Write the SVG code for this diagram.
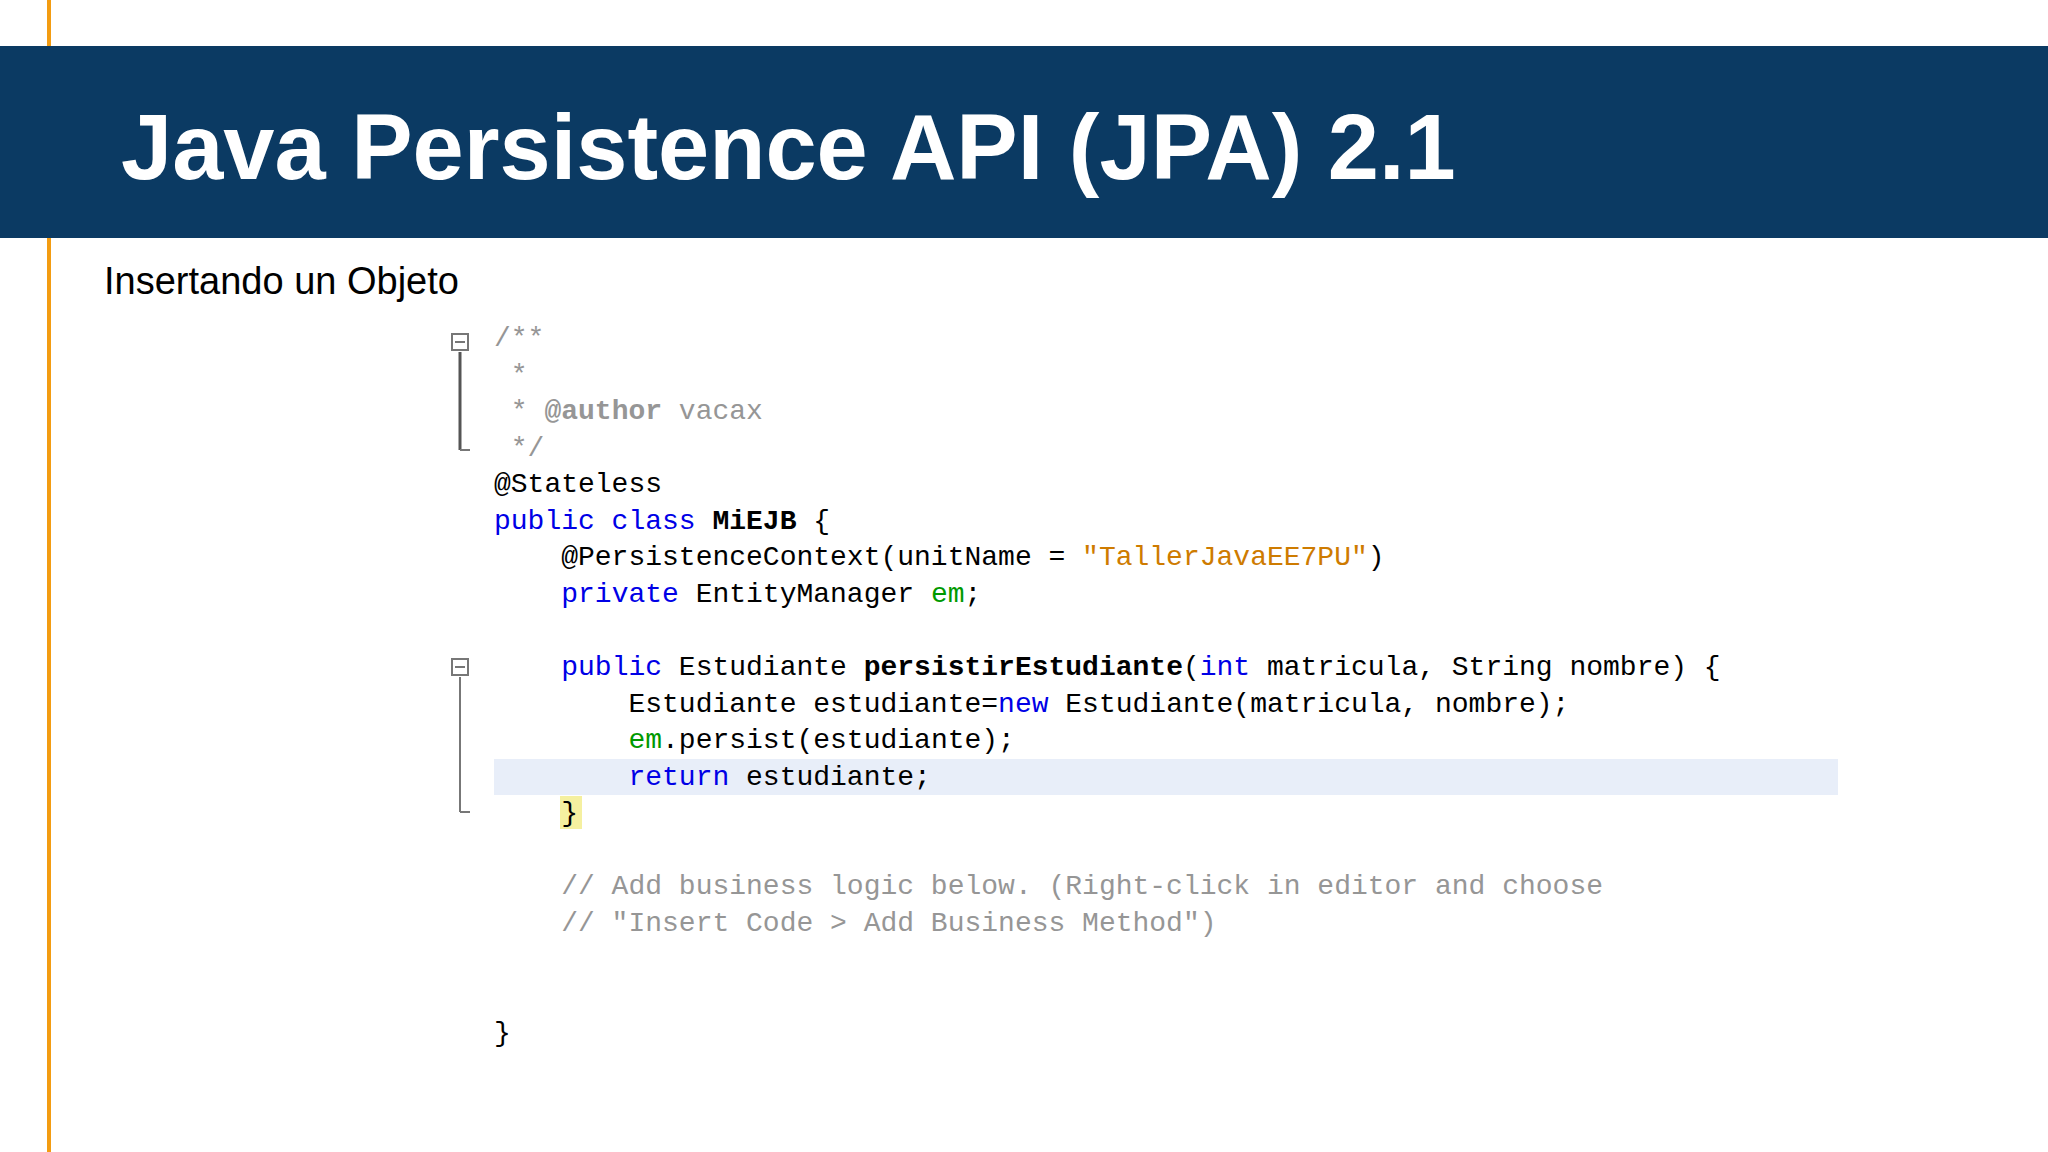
<svg xmlns="http://www.w3.org/2000/svg" width="2048" height="1152" viewBox="0 0 2048 1152">
<style>
.c{font-family:"Liberation Mono","DejaVu Sans Mono",monospace;font-size:28px;fill:#000;white-space:pre}
.g{fill:#969696}.k{fill:#0000e6}.s{fill:#ce7b00}.v{fill:#009900}.b{font-weight:bold}
.f{fill:none;stroke:#777;stroke-width:2}
</style>
<rect width="2048" height="1152" fill="#fff"/>
<rect x="47" y="0" width="4" height="1152" fill="#f39c12"/>
<rect x="0" y="46" width="2048" height="192" fill="#0b3a63"/>
<text x="121" y="179" font-family="Liberation Sans,Arial,sans-serif" font-size="92" font-weight="bold" fill="#fff">Java Persistence API (JPA) 2.1</text>
<text x="104" y="294" font-family="Liberation Sans,Arial,sans-serif" font-size="38" fill="#000">Insertando un Objeto</text>
<rect x="494" y="759" width="1344" height="36" fill="#e8eef9"/>
<rect x="560" y="796" width="22" height="33" fill="#f5f0a0"/>
<g id="folds">
<rect x="452" y="334" width="16" height="16" class="f"/><line x1="455" y1="342" x2="465" y2="342" class="f"/>
<line x1="460" y1="352" x2="460" y2="450" stroke="#555" stroke-width="3"/><line x1="460" y1="450" x2="470" y2="450" class="f"/>
<rect x="452" y="659" width="16" height="16" class="f"/><line x1="455" y1="667" x2="465" y2="667" class="f"/>
<line x1="460" y1="677" x2="460" y2="812" class="f"/><line x1="460" y1="812" x2="470" y2="812" class="f"/>
</g>
<g id="code">
<text class="c g" x="494" y="346">/**</text>
<text class="c g" x="494" y="383"> *</text>
<text class="c g" x="494" y="419"> * <tspan class="b">@author</tspan> vacax</text>
<text class="c g" x="494" y="456"> */</text>
<text class="c" x="494" y="492">@Stateless</text>
<text class="c" x="494" y="529"><tspan class="k">public class</tspan> <tspan class="b">MiEJB</tspan> {</text>
<text class="c" x="494" y="565">    @PersistenceContext(unitName = <tspan class="s">"TallerJavaEE7PU"</tspan>)</text>
<text class="c" x="494" y="602">    <tspan class="k">private</tspan> EntityManager <tspan class="v">em</tspan>;</text>
<text class="c" x="494" y="675">    <tspan class="k">public</tspan> Estudiante <tspan class="b">persistirEstudiante</tspan>(<tspan class="k">int</tspan> matricula, String nombre) {</text>
<text class="c" x="494" y="712">        Estudiante estudiante=<tspan class="k">new</tspan> Estudiante(matricula, nombre);</text>
<text class="c" x="494" y="748">        <tspan class="v">em</tspan>.persist(estudiante);</text>
<text class="c" x="494" y="785">        <tspan class="k">return</tspan> estudiante;</text>
<text class="c" x="494" y="821">    }</text>
<text class="c g" x="494" y="894">    // Add business logic below. (Right-click in editor and choose</text>
<text class="c g" x="494" y="931">    // "Insert Code &gt; Add Business Method")</text>
<text class="c" x="494" y="1041">}</text>
</g>
</svg>
